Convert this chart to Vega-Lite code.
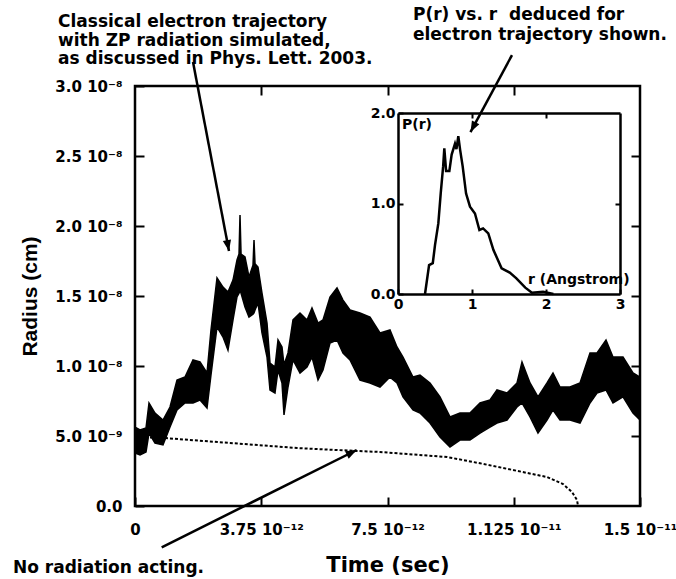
{
  "$schema": "https://vega.github.io/schema/vega-lite/v6.json",
  "width": 505,
  "height": 420,
  "autosize": "none",
  "padding": {"left": 135, "top": 86, "right": 36, "bottom": 73},
  "background": "white",
  "config": {
    "font": "DejaVu Sans",
    "view": {"stroke": "black", "strokeWidth": 2.5},
    "axis": {
      "grid": false,
      "domain": false,
      "labelFlush": false,
      "tickColor": "black",
      "tickWidth": 2,
      "labelColor": "black",
      "labelFont": "DejaVu Sans",
      "labelFontWeight": "bold",
      "titleColor": "black",
      "titleFont": "DejaVu Sans",
      "titleFontWeight": "bold"
    }
  },
  "datasets": {
    "trajectory": [
      {"t": 0, "lo": 3.79e-9, "hi": 5.64e-9},
      {"t": 1.49e-13, "lo": 3.64e-9, "hi": 5.43e-9},
      {"t": 3.27e-13, "lo": 3.86e-9, "hi": 5.57e-9},
      {"t": 4.16e-13, "lo": 5.21e-9, "hi": 7.36e-9},
      {"t": 5.94e-13, "lo": 4.5e-9, "hi": 6.64e-9},
      {"t": 8.32e-13, "lo": 4.36e-9, "hi": 6.14e-9},
      {"t": 1.04e-12, "lo": 5.64e-9, "hi": 7.07e-9},
      {"t": 1.248e-12, "lo": 6.86e-9, "hi": 9.0e-9},
      {"t": 1.485e-12, "lo": 7.36e-9, "hi": 9.21e-9},
      {"t": 1.723e-12, "lo": 7.36e-9, "hi": 1.043e-8},
      {"t": 1.931e-12, "lo": 7.57e-9, "hi": 1.029e-8},
      {"t": 2.139e-12, "lo": 7.0e-9, "hi": 9.5e-9},
      {"t": 2.257e-12, "lo": 9.36e-9, "hi": 1.257e-8},
      {"t": 2.436e-12, "lo": 1.279e-8, "hi": 1.629e-8},
      {"t": 2.614e-12, "lo": 1.207e-8, "hi": 1.564e-8},
      {"t": 2.762e-12, "lo": 1.114e-8, "hi": 1.529e-8},
      {"t": 2.911e-12, "lo": 1.329e-8, "hi": 1.614e-8},
      {"t": 3.03e-12, "lo": 1.493e-8, "hi": 1.757e-8},
      {"t": 3.09e-12, "lo": 1.52e-8, "hi": 1.8e-8},
      {"t": 3.119e-12, "lo": 1.543e-8, "hi": 2.079e-8},
      {"t": 3.15e-12, "lo": 1.52e-8, "hi": 1.8e-8},
      {"t": 3.267e-12, "lo": 1.421e-8, "hi": 1.779e-8},
      {"t": 3.386e-12, "lo": 1.35e-8, "hi": 1.636e-8},
      {"t": 3.505e-12, "lo": 1.37e-8, "hi": 1.72e-8},
      {"t": 3.535e-12, "lo": 1.379e-8, "hi": 1.9e-8},
      {"t": 3.565e-12, "lo": 1.4e-8, "hi": 1.73e-8},
      {"t": 3.653e-12, "lo": 1.45e-8, "hi": 1.707e-8},
      {"t": 3.772e-12, "lo": 1.236e-8, "hi": 1.521e-8},
      {"t": 3.921e-12, "lo": 1.064e-8, "hi": 1.307e-8},
      {"t": 4.01e-12, "lo": 8.29e-9, "hi": 1.021e-8},
      {"t": 4.158e-12, "lo": 8.07e-9, "hi": 9.93e-9},
      {"t": 4.248e-12, "lo": 9.71e-9, "hi": 1.186e-8},
      {"t": 4.366e-12, "lo": 8.79e-9, "hi": 1.136e-8},
      {"t": 4.426e-12, "lo": 6.5e-9, "hi": 1.007e-8},
      {"t": 4.545e-12, "lo": 8.5e-9, "hi": 1.093e-8},
      {"t": 4.693e-12, "lo": 1.043e-8, "hi": 1.329e-8},
      {"t": 4.901e-12, "lo": 9.5e-9, "hi": 1.379e-8},
      {"t": 5.109e-12, "lo": 9.93e-9, "hi": 1.329e-8},
      {"t": 5.257e-12, "lo": 1.064e-8, "hi": 1.414e-8},
      {"t": 5.436e-12, "lo": 9.0e-9, "hi": 1.307e-8},
      {"t": 5.584e-12, "lo": 9.71e-9, "hi": 1.329e-8},
      {"t": 5.792e-12, "lo": 1.164e-8, "hi": 1.493e-8},
      {"t": 6.0e-12, "lo": 1.186e-8, "hi": 1.557e-8},
      {"t": 6.178e-12, "lo": 1.093e-8, "hi": 1.471e-8},
      {"t": 6.386e-12, "lo": 1.043e-8, "hi": 1.4e-8},
      {"t": 6.683e-12, "lo": 9.0e-9, "hi": 1.379e-8},
      {"t": 6.98e-12, "lo": 8.79e-9, "hi": 1.35e-8},
      {"t": 7.277e-12, "lo": 8.5e-9, "hi": 1.236e-8},
      {"t": 7.574e-12, "lo": 9.21e-9, "hi": 1.257e-8},
      {"t": 7.782e-12, "lo": 8.79e-9, "hi": 1.136e-8},
      {"t": 7.96e-12, "lo": 7.79e-9, "hi": 1.064e-8},
      {"t": 8.257e-12, "lo": 6.86e-9, "hi": 9.21e-9},
      {"t": 8.465e-12, "lo": 6.64e-9, "hi": 9.36e-9},
      {"t": 8.762e-12, "lo": 5.93e-9, "hi": 8.79e-9},
      {"t": 9.059e-12, "lo": 4.93e-9, "hi": 7.79e-9},
      {"t": 9.356e-12, "lo": 4.21e-9, "hi": 6.36e-9},
      {"t": 9.653e-12, "lo": 4.71e-9, "hi": 6.64e-9},
      {"t": 9.95e-12, "lo": 4.71e-9, "hi": 6.64e-9},
      {"t": 1.0248e-11, "lo": 5.21e-9, "hi": 7.36e-9},
      {"t": 1.0545e-11, "lo": 5.64e-9, "hi": 7.57e-9},
      {"t": 1.0752e-11, "lo": 5.93e-9, "hi": 8.29e-9},
      {"t": 1.105e-11, "lo": 6.14e-9, "hi": 8.07e-9},
      {"t": 1.1347e-11, "lo": 7.07e-9, "hi": 8.79e-9},
      {"t": 1.1495e-11, "lo": 7.36e-9, "hi": 1.029e-8},
      {"t": 1.1733e-11, "lo": 6.36e-9, "hi": 8.79e-9},
      {"t": 1.197e-11, "lo": 5.21e-9, "hi": 7.79e-9},
      {"t": 1.2238e-11, "lo": 6.14e-9, "hi": 8.79e-9},
      {"t": 1.2416e-11, "lo": 6.86e-9, "hi": 9.5e-9},
      {"t": 1.2624e-11, "lo": 6.14e-9, "hi": 8.5e-9},
      {"t": 1.2921e-11, "lo": 6.14e-9, "hi": 8.5e-9},
      {"t": 1.3218e-11, "lo": 5.93e-9, "hi": 8.79e-9},
      {"t": 1.3515e-11, "lo": 7.36e-9, "hi": 1.093e-8},
      {"t": 1.3723e-11, "lo": 8.07e-9, "hi": 1.093e-8},
      {"t": 1.399e-11, "lo": 8.29e-9, "hi": 1.186e-8},
      {"t": 1.4198e-11, "lo": 7.36e-9, "hi": 1.064e-8},
      {"t": 1.4495e-11, "lo": 7.79e-9, "hi": 1.064e-8},
      {"t": 1.4792e-11, "lo": 6.64e-9, "hi": 9.5e-9},
      {"t": 1.5e-11, "lo": 6.14e-9, "hi": 9.21e-9}
    ],
    "noRadiation": [
      {"t": 0, "r": 4.93e-9},
      {"t": 8.32e-13, "r": 4.86e-9},
      {"t": 2.822e-12, "r": 4.5e-9},
      {"t": 4.812e-12, "r": 4.14e-9},
      {"t": 6.594e-12, "r": 3.93e-9},
      {"t": 7.277e-12, "r": 3.86e-9},
      {"t": 9.267e-12, "r": 3.5e-9},
      {"t": 1.025e-11, "r": 3.05e-9},
      {"t": 1.1228e-11, "r": 2.57e-9},
      {"t": 1.2238e-11, "r": 2.07e-9},
      {"t": 1.2713e-11, "r": 1.57e-9},
      {"t": 1.298e-11, "r": 1.0e-9},
      {"t": 1.3129e-11, "r": 4.3e-10},
      {"t": 1.3159e-11, "r": 0}
    ],
    "pr": [
      {"r": 0.365, "p": 0}, {"r": 0.42, "p": 0.32}, {"r": 0.47, "p": 0.34},
      {"r": 0.5, "p": 0.54}, {"r": 0.545, "p": 0.78}, {"r": 0.577, "p": 1.11},
      {"r": 0.61, "p": 1.41}, {"r": 0.626, "p": 1.61}, {"r": 0.65, "p": 1.36},
      {"r": 0.694, "p": 1.36}, {"r": 0.725, "p": 1.54}, {"r": 0.77, "p": 1.66},
      {"r": 0.79, "p": 1.6}, {"r": 0.815, "p": 1.745}, {"r": 0.84, "p": 1.59},
      {"r": 0.874, "p": 1.41}, {"r": 0.92, "p": 1.11}, {"r": 0.973, "p": 0.965},
      {"r": 1.04, "p": 0.89}, {"r": 1.1, "p": 0.707}, {"r": 1.15, "p": 0.725},
      {"r": 1.22, "p": 0.67}, {"r": 1.29, "p": 0.486}, {"r": 1.4, "p": 0.284},
      {"r": 1.51, "p": 0.236}, {"r": 1.6, "p": 0.173}, {"r": 1.72, "p": 0.07},
      {"r": 1.81, "p": 0.015}, {"r": 1.96, "p": 0.026}, {"r": 2.1, "p": 0}
    ],
    "arrows": [
      {"note": "trajectory", "t0": 1.723e-12, "r0": 3.171e-8, "t1": 2.792e-12, "r1": 1.821e-8},
      {"note": "distribution", "t0": 1.1198e-11, "r0": 3.221e-8, "t1": 9.965e-12, "r1": 2.671e-8},
      {"note": "noRadiation", "t0": 7.93e-13, "r0": -2.95e-9, "t1": 6.585e-12, "r1": 4.0e-9}
    ]
  },
  "layer": [
    {
      "resolve": {"axis": {"x": "independent", "y": "independent"}},
      "layer": [
        {
          "data": {"name": "trajectory"},
          "mark": {"type": "area", "color": "black", "stroke": "black", "strokeWidth": 1.5, "strokeJoin": "miter"},
          "encoding": {
            "x": {
              "field": "t", "type": "quantitative",
              "scale": {"domain": [0, 1.5e-11], "nice": false, "zero": false},
              "axis": {
                "orient": "bottom",
                "values": [0, 3.75e-12, 7.5e-12, 1.125e-11, 1.5e-11],
                "labelExpr": "datum.value < 1e-13 ? '0' : datum.value < 5e-12 ? '3.75 10⁻¹²' : datum.value < 9e-12 ? '7.5 10⁻¹²' : datum.value < 1.3e-11 ? '1.125 10⁻¹¹' : '1.5 10⁻¹¹'",
                "tickSize": -9,
                "labelPadding": 25,
                "labelFontSize": 15,
                "title": "Time (sec)",
                "titleFontSize": 21,
                "titlePadding": 17
              }
            },
            "y": {
              "field": "hi", "type": "quantitative",
              "scale": {"domain": [0, 3e-8], "nice": false, "zero": false},
              "axis": {
                "orient": "left",
                "values": [0, 5e-9, 1e-8, 1.5e-8, 2e-8, 2.5e-8, 3e-8],
                "labelExpr": "datum.value < 1e-10 ? '0.0' : datum.value < 7e-9 ? '5.0 10⁻⁹' : datum.value < 1.2e-8 ? '1.0 10⁻⁸' : datum.value < 1.7e-8 ? '1.5 10⁻⁸' : datum.value < 2.2e-8 ? '2.0 10⁻⁸' : datum.value < 2.7e-8 ? '2.5 10⁻⁸' : '3.0 10⁻⁸'",
                "tickSize": -9,
                "labelPadding": 22,
                "labelFontSize": 15,
                "title": "Radius (cm)",
                "titleFont": "Liberation Sans",
                "titleFontSize": 21,
                "titlePadding": 14
              }
            },
            "y2": {"field": "lo"}
          }
        },
        {
          "data": {"name": "noRadiation"},
          "mark": {"type": "line", "color": "black", "strokeWidth": 2, "strokeDash": [3, 2]},
          "encoding": {
            "x": {
              "field": "t", "type": "quantitative",
              "scale": {"domain": [0, 1.5e-11], "nice": false, "zero": false},
              "axis": {"orient": "top", "values": [3.75e-12, 7.5e-12, 1.125e-11], "labels": false, "tickSize": -9, "title": null}
            },
            "y": {
              "field": "r", "type": "quantitative",
              "scale": {"domain": [0, 3e-8], "nice": false, "zero": false},
              "axis": {"orient": "right", "values": [5e-9, 1e-8, 1.5e-8, 2e-8, 2.5e-8], "labels": false, "tickSize": -9, "title": null}
            }
          }
        },
        {
          "data": {"name": "arrows"},
          "mark": {"type": "rule", "color": "black", "strokeWidth": 2.5},
          "encoding": {
            "x": {"field": "t0", "type": "quantitative", "scale": {"domain": [0, 1.5e-11], "nice": false, "zero": false}, "axis": null},
            "y": {"field": "r0", "type": "quantitative", "scale": {"domain": [0, 3e-8], "nice": false, "zero": false}, "axis": null},
            "x2": {"field": "t1"},
            "y2": {"field": "r1"}
          }
        },
        {
          "data": {"name": "arrows"},
          "transform": [{"filter": "datum.note === 'trajectory'"}],
          "mark": {"type": "point", "shape": "M0,0L-0.38,1L0.38,1Z", "filled": true, "color": "black", "opacity": 1, "size": 484, "angle": 169},
          "encoding": {
            "x": {"field": "t1", "type": "quantitative", "scale": {"domain": [0, 1.5e-11], "nice": false, "zero": false}, "axis": null},
            "y": {"field": "r1", "type": "quantitative", "scale": {"domain": [0, 3e-8], "nice": false, "zero": false}, "axis": null}
          }
        },
        {
          "data": {"name": "arrows"},
          "transform": [{"filter": "datum.note === 'distribution'"}],
          "mark": {"type": "point", "shape": "M0,0L-0.38,1L0.38,1Z", "filled": true, "color": "black", "opacity": 1, "size": 484, "angle": 208},
          "encoding": {
            "x": {"field": "t1", "type": "quantitative", "scale": {"domain": [0, 1.5e-11], "nice": false, "zero": false}, "axis": null},
            "y": {"field": "r1", "type": "quantitative", "scale": {"domain": [0, 3e-8], "nice": false, "zero": false}, "axis": null}
          }
        },
        {
          "data": {"name": "arrows"},
          "transform": [{"filter": "datum.note === 'noRadiation'"}],
          "mark": {"type": "point", "shape": "M0,0L-0.38,1L0.38,1Z", "filled": true, "color": "black", "opacity": 1, "size": 484, "angle": 63.5},
          "encoding": {
            "x": {"field": "t1", "type": "quantitative", "scale": {"domain": [0, 1.5e-11], "nice": false, "zero": false}, "axis": null},
            "y": {"field": "r1", "type": "quantitative", "scale": {"domain": [0, 3e-8], "nice": false, "zero": false}, "axis": null}
          }
        },
        {
          "data": {"values": [{}]},
          "mark": {
            "type": "text", "align": "left", "baseline": "alphabetic",
            "font": "DejaVu Sans", "fontWeight": "bold", "fontSize": 17, "lineHeight": 18.5, "color": "black",
            "text": ["Classical electron trajectory", "with ZP radiation simulated,", "as discussed in Phys. Lett. 2003."]
          },
          "encoding": {
            "x": {"datum": -2.287e-12, "type": "quantitative", "scale": {"domain": [0, 1.5e-11], "nice": false, "zero": false}, "axis": null},
            "y": {"datum": 3.421e-8, "type": "quantitative", "scale": {"domain": [0, 3e-8], "nice": false, "zero": false}, "axis": null}
          }
        },
        {
          "data": {"values": [{}]},
          "mark": {
            "type": "text", "align": "left", "baseline": "alphabetic",
            "font": "DejaVu Sans", "fontWeight": "bold", "fontSize": 17, "lineHeight": 19.5, "color": "black",
            "text": ["P(r) vs. r\u00a0 deduced for", "electron trajectory shown."]
          },
          "encoding": {
            "x": {"datum": 8.257e-12, "type": "quantitative", "scale": {"domain": [0, 1.5e-11], "nice": false, "zero": false}, "axis": null},
            "y": {"datum": 3.471e-8, "type": "quantitative", "scale": {"domain": [0, 3e-8], "nice": false, "zero": false}, "axis": null}
          }
        },
        {
          "data": {"values": [{}]},
          "mark": {
            "type": "text", "align": "left", "baseline": "alphabetic",
            "font": "DejaVu Sans", "fontWeight": "bold", "fontSize": 17, "color": "black",
            "text": "No radiation acting."
          },
          "encoding": {
            "x": {"datum": -3.624e-12, "type": "quantitative", "scale": {"domain": [0, 1.5e-11], "nice": false, "zero": false}, "axis": null},
            "y": {"datum": -4.786e-9, "type": "quantitative", "scale": {"domain": [0, 3e-8], "nice": false, "zero": false}, "axis": null}
          }
        }
      ]
    },
    {
      "resolve": {"axis": {"x": "independent", "y": "independent"}},
      "layer": [
        {
          "data": {"name": "pr"},
          "mark": {"type": "line", "color": "black", "strokeWidth": 2.5},
          "encoding": {
            "x": {
              "field": "r", "type": "quantitative",
              "scale": {"domain": [0, 3], "range": [263, 485], "nice": false, "zero": false},
              "axis": {"orient": "bottom", "offset": -212, "values": [0, 1, 2, 3], "format": ".0f", "domain": true, "domainColor": "black", "domainWidth": 2.5, "tickSize": -5, "labelPadding": 8, "labelFontSize": 14, "title": null}
            },
            "y": {
              "field": "p", "type": "quantitative",
              "scale": {"domain": [0, 2], "range": [208, 27], "nice": false, "zero": false},
              "axis": {"orient": "left", "offset": -263, "values": [0, 1, 2], "format": ".1f", "domain": true, "domainColor": "black", "domainWidth": 2.5, "tickSize": -5, "labelPadding": 8, "labelFontSize": 14, "title": null}
            }
          }
        },
        {
          "data": {"values": [{}]},
          "mark": {"type": "text", "align": "left", "baseline": "middle", "font": "DejaVu Sans", "fontWeight": "bold", "fontSize": 14, "color": "black", "text": "P(r)"},
          "encoding": {
            "x": {"datum": 0.054, "type": "quantitative", "scale": {"domain": [0, 3], "range": [263, 485], "nice": false, "zero": false},
                  "axis": {"orient": "top", "offset": -27, "values": [1, 2], "labels": false, "domain": true, "domainColor": "black", "domainWidth": 2.5, "tickSize": -5, "title": null}},
            "y": {"datum": 1.867, "type": "quantitative", "scale": {"domain": [0, 2], "range": [208, 27], "nice": false, "zero": false},
                  "axis": {"orient": "right", "offset": -20, "values": [1], "labels": false, "domain": true, "domainColor": "black", "domainWidth": 2.5, "tickSize": -5, "title": null}}
          }
        },
        {
          "data": {"values": [{}]},
          "mark": {"type": "text", "align": "left", "baseline": "middle", "font": "DejaVu Sans", "fontWeight": "bold", "fontSize": 14, "color": "black", "text": "r (Angstrom)"},
          "encoding": {
            "x": {"datum": 1.757, "type": "quantitative", "scale": {"domain": [0, 3], "range": [263, 485], "nice": false, "zero": false}, "axis": null},
            "y": {"datum": 0.155, "type": "quantitative", "scale": {"domain": [0, 2], "range": [208, 27], "nice": false, "zero": false}, "axis": null}
          }
        }
      ]
    }
  ],
  "resolve": {"scale": {"x": "independent", "y": "independent"}}
}
